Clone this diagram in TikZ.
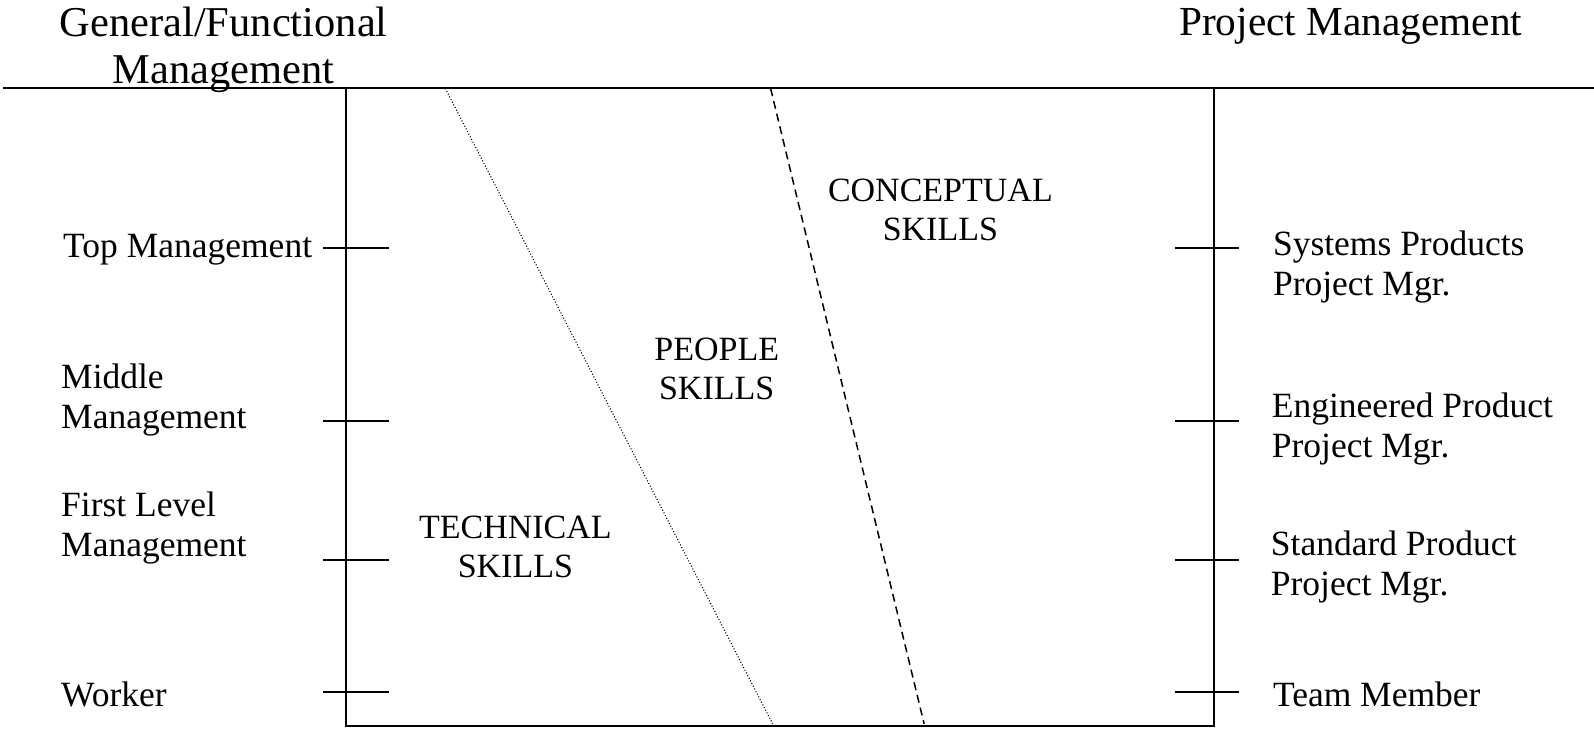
\documentclass[tikz,border=0pt]{standalone}
\usepackage{fontspec}
\setmainfont{Liberation Serif}
\begin{document}
\begin{tikzpicture}[x=1pt,y=-1pt,
  frame/.style={line width=2pt},
  tick/.style={line width=2pt},
  lbl/.style={font=\fontsize{35.5}{40}\selectfont, align=left, inner sep=0pt, anchor=west},
  head/.style={font=\fontsize{42.5}{47}\selectfont, align=center, inner sep=0pt},
  skill/.style={font=\fontsize{34}{39}\selectfont, align=center, inner sep=0pt},
  dotline/.style={line width=1.1pt, dash pattern=on 1pt off 2pt},
  dashline/.style={line width=1.5pt, dash pattern=on 8pt off 5pt}]
\useasboundingbox (0,0) rectangle (1594,728);
% headings
\node[head] (gfm) at (223.7,49.5) {General/Functional\\Management};
\node[head, font=\fontsize{41.3}{47}\selectfont, anchor=west] (pm) at (1179,26) {Project Management};
% frame
\draw[frame] (3,88.4) -- (1594,88.4);
\draw[frame] (345.6,88.4) -- (345.6,725.9) -- (1213.8,725.9) -- (1213.8,88.4);
% skill boundaries
\draw[dotline] (445.3,88.4) -- (772.6,723.8);
\draw[dashline] (770.6,88.4) -- (924.1,723.8);
% ticks
\foreach \y in {248,420.9,560.1,692.3}{
  \draw[tick] (323.3,\y) -- (389.4,\y);
  \draw[tick] (1175.2,\y) -- (1239.2,\y);
}
% left labels
\node[lbl] (top) at (63,250) {Top Management};
\node[lbl] (mid) at (61,400) {Middle\\Management};
\node[lbl] (first) at (61,528) {First Level\\Management};
\node[lbl] (work) at (61,694) {Worker};
% right labels
\node[lbl] (sys) at (1272.8,267) {Systems Products\\Project Mgr.};
\node[lbl] (eng) at (1271.7,429) {Engineered Product\\Project Mgr.};
\node[lbl] (std) at (1270.7,567) {Standard Product\\Project Mgr.};
\node[lbl] (team) at (1272.8,694) {Team Member};
% skill labels
\node[skill] (concept) at (940.4,210) {CONCEPTUAL\\SKILLS};
\node[skill] (people) at (716.7,368.5) {PEOPLE\\SKILLS};
\node[skill] (tech) at (515.4,547) {TECHNICAL\\SKILLS};
\end{tikzpicture}
\end{document}
